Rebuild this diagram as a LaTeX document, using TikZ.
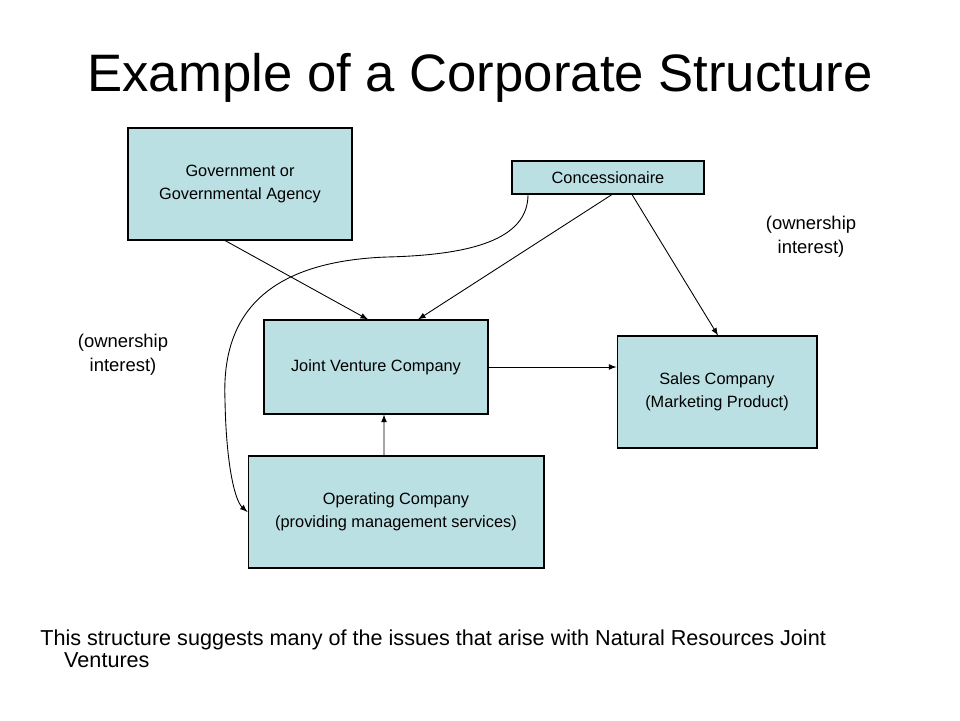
\documentclass[tikz,border=0pt]{standalone}
\usepackage{fontspec}
\setmainfont{Liberation Sans}
\usepackage{tikz}
\usetikzlibrary{arrows, positioning}
\definecolor{pptblue}{RGB}{187, 224, 227}

\begin{document}
\begin{tikzpicture}[x=0.02cm, y=-0.02cm, >=latex,
  entity/.style={draw=black, fill=pptblue, line width=0.6pt, align=center,
    inner sep=0pt, font=\fontsize{9.3}{13}\selectfont},
  link/.style={->, line width=0.5pt},
  note/.style={align=center, font=\fontsize{10.5}{13.5}\selectfont}]
\useasboundingbox (0,0) rectangle (960,720);

% Title
\node[font=\fontsize{30}{34}\selectfont] (title) at (480,78) {Example of a Corporate Structure};

% Entities
\node[entity, minimum width=4.48cm, minimum height=2.24cm] (gov) at (240,184) {Government or\\Governmental Agency};
\node[entity, minimum width=3.84cm, minimum height=0.66cm] (conc) at (608,177.5) {Concessionaire};
\node[entity, minimum width=4.48cm, minimum height=1.88cm] (jv) at (376,367) {Joint Venture Company};
\node[entity, minimum width=4.0cm, minimum height=2.24cm] (sales) at (717,392) {Sales Company\\(Marketing Product)};
\node[entity, minimum width=5.92cm, minimum height=2.24cm] (op) at (396,512) {Operating Company\\(providing management services)};

% Ownership notes
\node[note] (ownright) at (811,237) {(ownership\\interest)};
\node[note] (ownleft) at (123,355) {(ownership\\interest)};

% Connections
\draw[link] ([xshift=-0.3cm]gov.south) -- ([xshift=-0.16cm]jv.north);
\draw[link] ([xshift=0.08cm]conc.south) -- ([xshift=0.84cm]jv.north);
\draw[link] ([xshift=0.48cm]conc.south) -- ([xshift=0.02cm]sales.north);
\draw[link] (jv.east) -- (jv.east -| sales.west);
\draw[link] ([xshift=-0.24cm]op.north) -- ([xshift=0.16cm]jv.south);
\draw[link] ([xshift=-1.6cm]conc.south) .. controls (528,240) and (470,255) .. (387,257)
  .. controls (250,262) and (222,330) .. (225,400)
  .. controls (226,460) and (234,500) .. (op.west);

% Footer
\node[anchor=north west, align=left, inner sep=0pt, font=\fontsize{12.3}{12.8}\selectfont] (footer) at (40,629)
  {This structure suggests many of the issues that arise with Natural Resources Joint\\\hspace*{13.6pt}Ventures};
\end{tikzpicture}
\end{document}
